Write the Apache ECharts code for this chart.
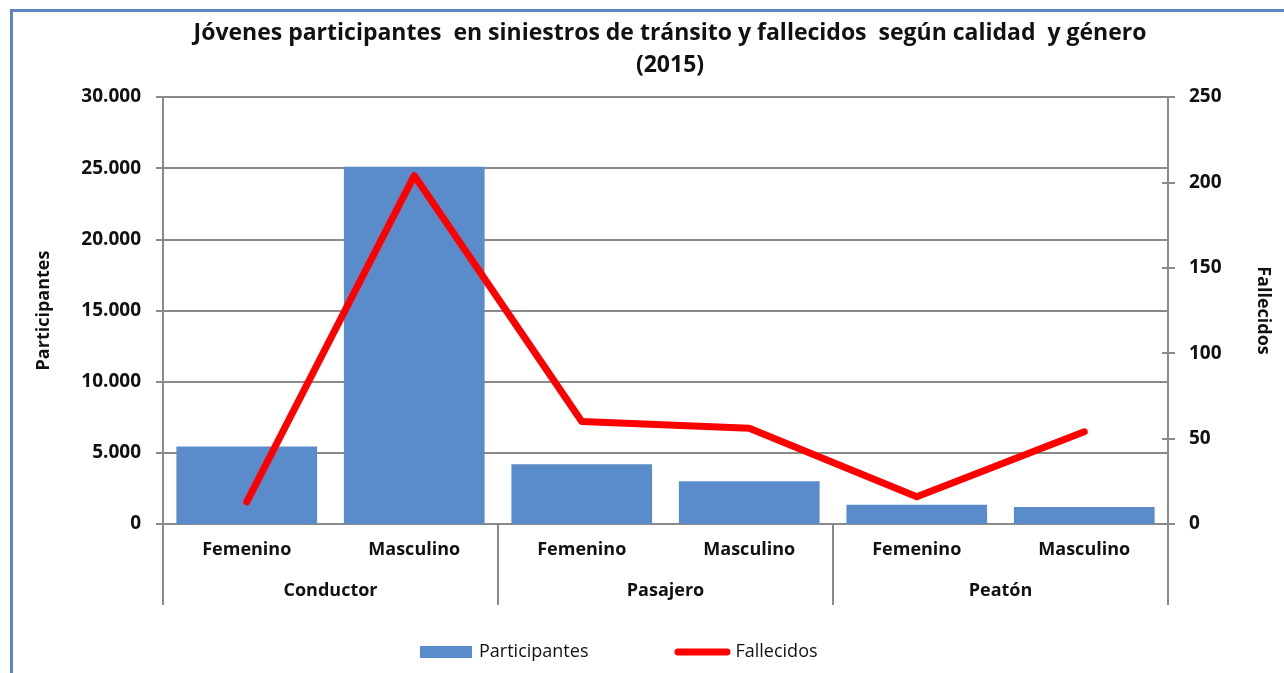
<!DOCTYPE html>
<html>
<head>
<meta charset="utf-8">
<script src="https://cdn.jsdelivr.net/npm/echarts@6/dist/echarts.min.js"></script>
<style>html,body{margin:0;padding:0;background:#fff;}#c{width:1284px;height:673px;}</style>
</head>
<body>
<div id="c"></div>
<script>
const genders = ['Femenino','Masculino','Femenino','Masculino','Femenino','Masculino'];
const groups = ['Conductor','Pasajero','Peatón'];
const participantes = [5450, 25100, 4200, 3000, 1350, 1200];
const fallecidos = [13, 204, 60, 56, 16, 54];
const leftTicks = {min: 0, max: 30000, interval: 5000};
const rightTicks = {min: 0, max: 250, interval: 50};

const FONT = 'Open Sans';
const GREY = '#8a8a8a';
const chart = echarts.init(document.getElementById('c'), null, {renderer: 'canvas'});
chart.setOption({
  backgroundColor: '#fff',
  textStyle: {fontFamily: FONT},
  title: {
    text: 'Jóvenes participantes  en siniestros de tránsito y fallecidos  según calidad  y género\n(2015)',
    left: 665, top: 12, textAlign: 'center',
    textStyle: {fontFamily: FONT, fontWeight: 'bold', fontSize: 23, color: '#111', lineHeight: 32}
  },
  graphic: [
    {type: 'rect', shape: {x: 10, y: 9, width: 3, height: 664}, style: {fill: '#5a86c2'}},
    {type: 'rect', shape: {x: 10, y: 9, width: 1274, height: 3}, style: {fill: '#5a86c2'}}
  ],
  legend: {
    bottom: 7, left: 415, itemGap: 86, itemWidth: 56, itemHeight: 12,
    textStyle: {fontFamily: FONT, fontSize: 18, color: '#111'},
    data: [
      {name: 'Participantes', icon: 'path://M0,0 L52,0 L52,12 L0,12 Z'},
      {name: 'Fallecidos', icon: 'path://M3.5,0 L54.5,0 A3.5,3.5 0 0 1 54.5,7 L3.5,7 A3.5,3.5 0 0 1 3.5,0 Z', itemStyle: {color: '#ff0000'}}
    ]
  },
  grid: {left: 163, right: 116, top: 97, bottom: 149, containLabel: false},
  xAxis: [
    {type: 'category', data: genders, position: 'bottom',
     axisLine: {show: true, lineStyle: {color: GREY, width: 2}},
     axisTick: {show: false},
     axisLabel: {margin: 17, fontFamily: FONT, fontWeight: 'bold', fontSize: 18, color: '#111', interval: 0}},
    {type: 'category', data: groups, position: 'bottom',
     axisLine: {show: false},
     axisTick: {show: true, length: 81, interval: 0, lineStyle: {color: GREY, width: 2}},
     axisLabel: {margin: 58, fontFamily: FONT, fontWeight: 'bold', fontSize: 18, color: '#111', interval: 0}}
  ],
  yAxis: [
    {type: 'value', position: 'left', min: leftTicks.min, max: leftTicks.max, interval: leftTicks.interval,
     name: 'Participantes', nameLocation: 'middle', nameRotate: 90, nameGap: 110,
     nameTextStyle: {fontFamily: FONT, fontWeight: 'bold', fontSize: 18, color: '#111'},
     axisLine: {show: true, lineStyle: {color: GREY, width: 2}},
     axisTick: {show: true, length: 7, lineStyle: {color: GREY, width: 2}},
     splitLine: {show: true, lineStyle: {color: GREY, width: 2}},
     axisLabel: {margin: 22, fontFamily: FONT, fontWeight: 'bold', fontSize: 19, color: '#111',
       formatter: v => String(v).replace(/\B(?=(\d{3})+(?!\d))/g, '.')}},
    {type: 'value', position: 'right', min: rightTicks.min, max: rightTicks.max, interval: rightTicks.interval,
     name: 'Fallecidos', nameLocation: 'middle', nameRotate: -90, nameGap: 86,
     nameTextStyle: {fontFamily: FONT, fontWeight: 'bold', fontSize: 18, color: '#111'},
     axisLine: {show: true, lineStyle: {color: GREY, width: 2}},
     axisTick: {show: true, length: 7, lineStyle: {color: GREY, width: 2}},
     splitLine: {show: false},
     axisLabel: {margin: 21, fontFamily: FONT, fontWeight: 'bold', fontSize: 19, color: '#111'}},
    {type: 'value', position: 'right', min: rightTicks.min, max: rightTicks.max, interval: rightTicks.interval,
     axisLine: {show: false}, splitLine: {show: false}, axisLabel: {show: false},
     axisTick: {show: true, inside: true, length: 6, lineStyle: {color: GREY, width: 2}}}
  ],
  series: [
    {name: 'Participantes', type: 'bar', xAxisIndex: 0, yAxisIndex: 0, data: participantes,
     barWidth: '84%', itemStyle: {color: '#5a8bcb'}, z: 2},
    {name: 'Fallecidos', type: 'line', xAxisIndex: 0, yAxisIndex: 1, data: fallecidos,
     symbol: 'none', itemStyle: {color: '#ff0000'},
     lineStyle: {color: '#ff0000', width: 7, cap: 'round', join: 'round'}, z: 3}
  ],
  animation: false
});
</script>
</body>
</html>
